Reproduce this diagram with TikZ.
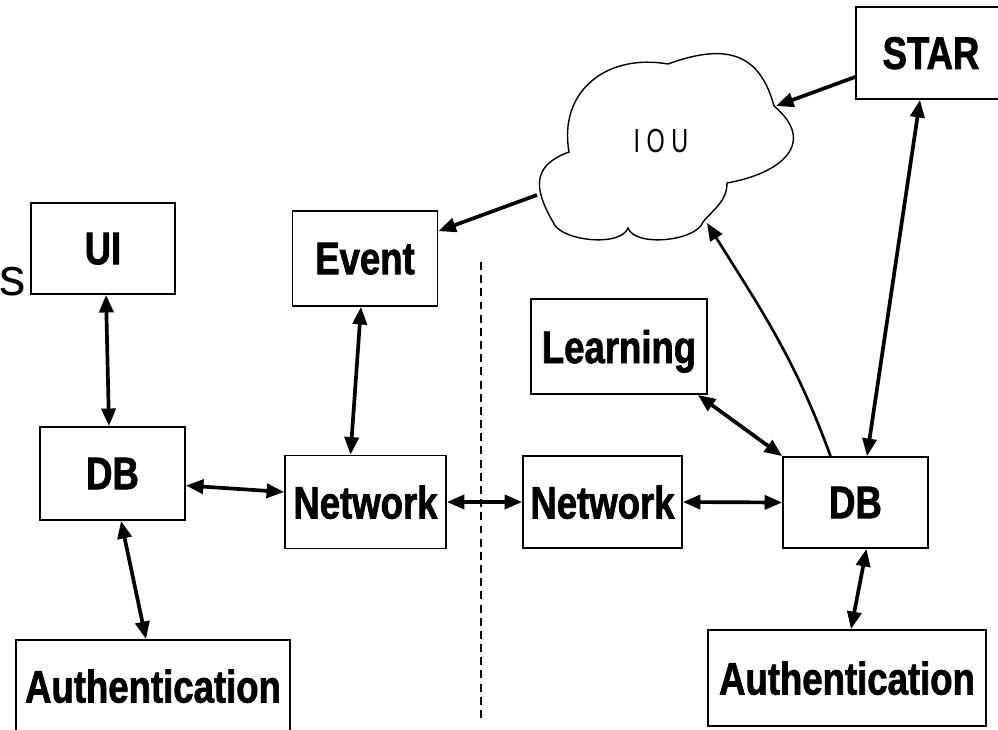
\documentclass[tikz,border=0pt]{standalone}
\usepackage{fontspec}
\setmainfont{Liberation Sans}
\newfontfamily\boxfont[FakeStretch=0.8, BoldFeatures={FakeBold=1.5}]{Liberation Sans}
\newfontfamily\cloudfont[FakeStretch=0.7]{Liberation Sans}
\usetikzlibrary{arrows.meta}

\begin{document}
\begin{tikzpicture}[x=0.02cm, y=-0.02cm,
    >={Triangle[length=10pt,width=8pt]},
    block/.style={draw, line width=1pt, inner sep=0pt, text depth=0pt,
        font=\boxfont\bfseries\fontsize{26}{28}\selectfont},
    link/.style={line width=2.1pt, <->},
    feed/.style={line width=2.1pt, ->}]
    \useasboundingbox (0,0) rectangle (998,730);
    \clip (0,0) rectangle (998,730);

    % Left side
    \node[block, minimum width=2.88cm, minimum height=1.82cm] (ui) at (103,248.5) {UI};
    \node[block, minimum width=2.9cm, minimum height=1.86cm] (dbl) at (112.5,473.5) {DB};
    \node[block, minimum width=5.48cm, minimum height=1.84cm] (authl) at (153,686) {Authentication};
    \node[block, minimum width=2.9cm, minimum height=1.9cm] (event) at (365,258.5) {Event};
    \node[block, minimum width=3.22cm, minimum height=1.86cm] (netl) at (365.5,502) {Network};
    \node[anchor=base east, inner sep=0pt, font=\fontsize{30}{32}\selectfont] (side) at (26,295) {s};

    % Right side
    \node[block, minimum width=3.18cm, minimum height=1.84cm] (netr) at (602.5,502) {Network};
    \node[block, minimum width=2.9cm, minimum height=1.82cm] (dbr) at (855.5,502.5) {DB};
    \node[block, minimum width=3.52cm, minimum height=1.9cm] (learn) at (619,346.5) {Learning};
    \node[block, minimum width=3.0cm, minimum height=1.84cm] (star) at (931,53) {STAR};
    \node[block, minimum width=5.56cm, minimum height=1.92cm] (authr) at (847,678) {Authentication};

    % The cloud
    \draw[line width=0.8pt] (569,152) to[out=200,in=120,looseness=1.4] (553,222)
        to[out=290,in=250,looseness=0.7] (628,228)
        to[out=290,in=250,looseness=0.7] (703,222)
        to[out=50,in=270] (727,183)
        to[out=10,in=-40,looseness=1.6] (774,106)
        to[out=105,in=20,looseness=1.3] (668,64)
        to[out=170,in=100,looseness=1.2] cycle;
    \node[font=\cloudfont\fontsize{19}{21}\selectfont] (iou) at (661,141) {I O U};
    \coordinate (iou-w) at (537,195);
    \coordinate (iou-e) at (776,106);
    \coordinate (iou-s) at (707,223);

    % Dividing line
    \draw[line width=0.8pt, dash pattern=on 4.5pt off 3pt] (481,262) -- (481,718);

    % Connectors
    \draw[link] ([xshift=0.06cm]ui.south) -- ([xshift=-0.07cm]dbl.north);
    \draw[link] ([xshift=0.17cm]dbl.south) -- ([xshift=-0.14cm]authl.north);
    \draw[link] ([yshift=-0.24cm]dbl.east) -- ([yshift=0.2cm]netl.west);
    \draw[link] ([xshift=-0.08cm]event.south) -- ([xshift=-0.3cm]netl.north);
    \draw[link] (netl.east) -- (netr.west);
    \draw[link] (netr.east) -- (dbr.west);
    \draw[link] ([xshift=-0.2cm]learn.south east) -- (dbr.north west);
    \draw[link] ([xshift=-0.22cm]star.south) -- ([xshift=0.23cm]dbr.north);
    \draw[link] ([xshift=0.22cm]dbr.south) -- ([xshift=0.08cm]authr.north);
    \draw[feed] ([yshift=-0.48cm]star.west) -- (iou-e);
    \draw[feed] (iou-w) -- ([yshift=-0.42cm]event.north east);
    \draw[feed, line width=1.5pt] ([xshift=-0.5cm]dbr.north) to[out=110,in=-58] (iou-s);
\end{tikzpicture}
\end{document}
